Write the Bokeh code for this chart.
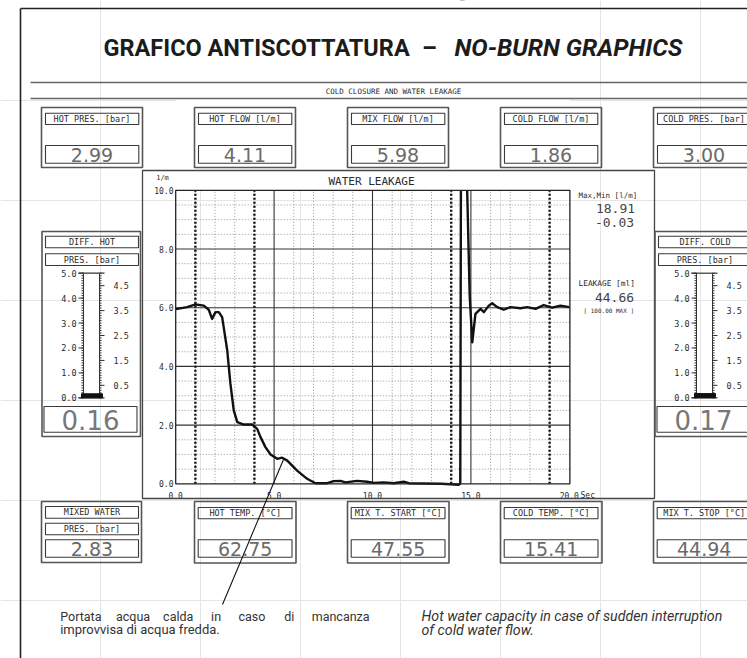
from bokeh.plotting import figure
from bokeh.models import Range1d
from bokeh.core.properties import value
from bokeh.embed import file_html
from bokeh.resources import INLINE

# ---------------- data ----------------
time_s = [0.0, 0.58, 1.01, 1.43, 1.68, 1.85, 2.02, 2.19, 2.36, 2.62, 2.78, 2.95, 3.13, 3.46,
          3.89, 4.14, 4.31, 4.56, 4.82, 5.16, 5.41, 5.67, 6.17, 6.68, 7.10, 7.70, 8.03, 8.37,
          8.63, 9.22, 9.73, 10.07, 10.57, 11.08, 11.59, 11.84, 12.5, 13.5, 14.39, 14.46,
          14.52, 14.62, 14.80, 14.94, 15.07, 15.23, 15.49, 15.66, 15.91, 16.08, 16.34, 16.67,
          17.01, 17.52, 17.86, 18.28, 18.70, 19.13, 19.55, 20.0]
flow_lpm = [5.95, 6.02, 6.11, 6.07, 5.93, 5.62, 5.85, 5.85, 5.68, 4.54, 3.41, 2.50, 2.10, 2.02,
            2.02, 1.87, 1.59, 1.25, 1.00, 0.85, 0.89, 0.79, 0.45, 0.17, 0.02, 0.02, 0.09, 0.10,
            0.05, 0.10, 0.07, 0.03, 0.05, 0.02, 0.07, 0.02, 0.01, 0.0, -0.03, 0.01,
            18.91, 16.5, 10.3, 6.4, 4.82, 5.79, 5.96, 5.85, 6.07, 6.15, 6.02, 5.93,
            6.02, 5.98, 6.02, 5.96, 6.09, 6.00, 6.07, 6.02]

x_ticks = [0, 5, 10, 15, 20]
x_tick_labels = ["0.0", "5.0", "10.0", "15.0", "20.0"]
y_ticks = [0, 2, 4, 6, 8, 10]
y_tick_labels = ["0.0", "2.0", "4.0", "6.0", "8.0", "10.0"]
x_major_grid = [5, 10, 15]
x_minor_grid = [1, 2, 3, 4, 6, 7, 8, 9, 11, 12, 13, 14, 16, 17, 18, 19]
y_major_grid = [2, 4, 6, 8]
y_minor_grid = [0.5, 1.0, 1.5, 2.5, 3.0, 3.5, 4.5, 5.0, 5.5, 6.5, 7.0, 7.5, 8.5, 9.0, 9.5]
event_markers_s = [1, 4, 14, 19]

top_labels = ["HOT PRES. [bar]", "HOT FLOW [l/m]", "MIX FLOW [l/m]", "COLD FLOW [l/m]", "COLD PRES. [bar]"]
top_values = [2.99, 4.11, 5.98, 1.86, 3.00]
bottom_labels = ["HOT TEMP. [°C]", "MIX T. START [°C]", "COLD TEMP. [°C]", "MIX T. STOP [°C]"]
bottom_values = [62.75, 47.55, 15.41, 44.94]
mixed_labels = ["MIXED WATER", "PRES. [bar]"]
mixed_value = 2.83
gauge_titles = [["DIFF. HOT", "PRES. [bar]"], ["DIFF. COLD", "PRES. [bar]"]]
gauge_values = [0.16, 0.17]
gauge_major = [0, 1, 2, 3, 4, 5]
gauge_major_labels = ["0.0", "1.0", "2.0", "3.0", "4.0", "5.0"]
gauge_half = [0.5, 1.5, 2.5, 3.5, 4.5]
gauge_half_labels = ["0.5", "1.5", "2.5", "3.5", "4.5"]
gauge_minor = [i / 10 for i in range(51)]
flow_max, flow_min = 18.91, -0.03
leakage_ml, leakage_limit = 44.66, 100.00

# ---------------- page figure (window pixel coordinates) ----------------
W, H = 747, 658
X0, Y0 = 0, 0
p = figure(width=W, height=H, x_range=Range1d(X0, X0 + W), y_range=Range1d(Y0 + H, Y0),
           output_backend="svg", toolbar_location=None, tools="", min_border=0,
           x_axis_location=None, y_axis_location=None, outline_line_color=None,
           background_fill_color="white", border_fill_color="white")

# scales of the embedded chart
T_PX0, T_PX20 = 175.2, 568.8
Q_PX0, Q_PX10 = 483.3, 189.8
G_PX0, G_PX5 = 397.3, 272.7
sx = (T_PX20 - T_PX0) / 20.0
sq = (Q_PX0 - Q_PX10) / 10.0
sg = (G_PX0 - G_PX5) / 5.0
p.extra_x_ranges = {"t": Range1d((X0 - T_PX0) / sx, (X0 + W - T_PX0) / sx)}
p.extra_y_ranges = {"q": Range1d((Q_PX0 - (Y0 + H)) / sq, (Q_PX0 - Y0) / sq),
                    "g": Range1d((G_PX0 - (Y0 + H)) / sg, (G_PX0 - Y0) / sg)}
TQ = dict(x_range_name="t", y_range_name="q")
XMAX = 20.03
MONO = value("DejaVu Sans Mono")
DIGIT = value("DejaVu Sans")
INK = "#2b2b2b"


def txt(x, y, s, size, font=MONO, align="center", color=INK, style="normal", **kw):
    xs = x if isinstance(x, list) else [x]
    ys = y if isinstance(y, list) else [y]
    ss = s if isinstance(s, list) else [s]
    n = max(len(xs), len(ys), len(ss))
    xs = xs * n if len(xs) == 1 else xs
    ys = ys * n if len(ys) == 1 else ys
    p.text(x=xs, y=ys, text=ss, text_font=font, text_font_size=value(f"{size}px"),
           text_align=align, text_baseline="middle", text_color=color,
           text_font_style=style, **kw)


def boxes(rects, color="#3a3a3a", lw=1.0):
    p.quad(left=[r[0] for r in rects], top=[r[1] for r in rects],
           right=[r[2] for r in rects], bottom=[r[3] for r in rects],
           fill_color=None, line_color=color, line_width=lw)


# ---------------- water leakage chart ----------------
p.segment(x0=0, x1=XMAX, y0=y_minor_grid, y1=y_minor_grid, line_color="#7a7a7a",
          line_width=0.8, line_dash="1 2", **TQ)
p.segment(x0=x_minor_grid, x1=x_minor_grid, y0=0, y1=10, line_color="#7a7a7a",
          line_width=0.8, line_dash="1 2", **TQ)
p.segment(x0=0, x1=XMAX, y0=y_major_grid, y1=y_major_grid, line_color="#333333",
          line_width=1.1, **TQ)
p.segment(x0=x_major_grid, x1=x_major_grid, y0=0, y1=10, line_color="#333333",
          line_width=1.1, **TQ)
p.segment(x0=event_markers_s, x1=event_markers_s, y0=0, y1=10, line_color="#111111",
          line_width=2.4, line_dash="2 2", **TQ)
p.line(time_s, flow_lpm, line_color="#111111", line_width=2.4, line_join="round", **TQ)
# mask everything drawn above the top of the chart area (clip of the curve)
p.quad(left=0, right=XMAX, bottom=10, top=40, fill_color="white", line_color=None, **TQ)
p.quad(left=[0], right=[XMAX], bottom=[0], top=[10], fill_color=None,
       line_color="#222222", line_width=1.3, **TQ)

txt(x_ticks, 495, x_tick_labels, 8, x_range_name="t")
txt(580, 495, "Sec", 8, align="left")
txt(173, y_ticks, y_tick_labels, 8, align="right", y_range_name="q")
txt(162, 177.5, "1/m", 7)
txt(371, 181, "WATER LEAKAGE", 11)

# panel border
boxes([(142, 170, 654, 498)], color="#444444", lw=1.3)

# right-hand info
txt(578, 195, "Max,Min [l/m]", 7.5, align="left")
txt(615, 208, f"{flow_max:.2f}", 13, color="#444444")
txt(614, 222, f"{flow_min:.2f}", 13, color="#444444")
txt(578, 283, "LEAKAGE [ml]", 7.8, align="left")
txt(614, 297, f"{leakage_ml:.2f}", 13, color="#444444")
txt(583, 310, f"[ {leakage_limit:.2f} MAX ]", 6, align="left")

# ---------------- header ----------------
p.segment(x0=[20, 20], y0=[8, 8], x1=[747, 20], y1=[8, 658], line_color="#222222", line_width=1.6)
TITLE_FONT = value("Roboto")
txt(103, 47, "GRAFICO ANTISCOTTATURA", 23.5, font=TITLE_FONT, align="left", style="bold", color="#1c1c1c")
txt(429, 47, "–", 23.5, font=TITLE_FONT, style="bold", color="#1c1c1c")
txt(682, 47, "NO-BURN GRAPHICS", 24.5, font=TITLE_FONT, align="right", style="bold italic", color="#1c1c1c")
p.segment(x0=[30, 30], y0=[82, 98], x1=[747, 747], y1=[82, 98], line_color="#666666", line_width=1.5)
txt(393, 90.5, "COLD CLOSURE AND WATER LEAKAGE", 7.5)

# top boxes
BOX_X = [41, 194, 347, 500, 653]
outer, inner = [], []
for bx in BOX_X:
    outer.append((bx, 107, bx + 101, 167))
    inner.append((bx + 4, 112.7, bx + 97.3, 124))
    inner.append((bx + 4, 145, bx + 97.3, 162.7))
boxes(outer, color="#555555", lw=1.6)
boxes(inner, color="#3a3a3a", lw=1.1)
txt([bx + 50.5 for bx in BOX_X], 118.5, top_labels, 8.5)
txt([bx + 50.5 for bx in BOX_X], 154, [f"{v:.2f}" for v in top_values], 19, font=DIGIT, color="#6a6a6a")

# ---------------- gauges ----------------
for gi, dx in enumerate([0, 613]):
    boxes([(41.5 + dx, 231, 140 + dx, 436)], color="#555555", lw=1.6)
    boxes([(45 + dx, 235.7, 138 + dx, 247.3), (45 + dx, 253.3, 138 + dx, 265),
           (43.5 + dx, 406, 136.5 + dx, 431.7)], color="#3a3a3a", lw=1.1)
    txt(91.5 + dx, [241.5, 259.2], gauge_titles[gi], 8.5)
    txt(90 + dx, 419, f"{gauge_values[gi]:.2f}", 26, font=DIGIT, color="#777777")
    G = dict(y_range_name="g")
    p.segment(x0=[83 + dx, 99 + dx], x1=[83 + dx, 99 + dx], y0=0, y1=5, line_color="#333333", line_width=1.0, **G)
    p.segment(x0=81 + dx, x1=83 + dx, y0=gauge_minor, y1=gauge_minor, line_color="#333333", line_width=1.0, **G)
    p.segment(x0=99 + dx, x1=101 + dx, y0=gauge_minor, y1=gauge_minor, line_color="#333333", line_width=1.0, **G)
    p.segment(x0=78 + dx, x1=83 + dx, y0=gauge_major, y1=gauge_major, line_color="#333333", line_width=1.0, **G)
    p.segment(x0=99 + dx, x1=104 + dx, y0=gauge_half, y1=gauge_half, line_color="#333333", line_width=1.0, **G)
    p.segment(x0=78 + dx, x1=104 + dx, y0=[0, 5], y1=[0, 5], line_color="#333333", line_width=1.2, **G)
    p.quad(left=[81 + dx], right=[102 + dx], bottom=[0], top=[gauge_values[gi]],
           fill_color="#111111", line_color="#111111", **G)
    txt(76 + dx, gauge_major, gauge_major_labels, 8.5, align="right", y_range_name="g")
    txt(113 + dx, gauge_half, gauge_half_labels, 8.5, align="left", y_range_name="g")

# ---------------- bottom boxes ----------------
outer = [(41, 501, 141, 562)]
inner = [(45, 506, 138, 517.7), (45, 522.7, 138, 534.3), (45, 539.3, 138, 556.7)]
BOT_X = [194, 347, 500, 653]
for bx in BOT_X:
    outer.append((bx, 501, bx + 101.5, 562.5))
    inner.append((bx + 3.7, 507, bx + 97.5, 518.3))
    inner.append((bx + 3.7, 539.3, bx + 97.5, 556.7))
boxes(outer, color="#555555", lw=1.6)
boxes(inner, color="#3a3a3a", lw=1.1)
txt(91.5, [511.9, 528.5], mixed_labels, 8.5)
txt(91.5, 548, f"{mixed_value:.2f}", 19, font=DIGIT, color="#6a6a6a")
txt([bx + 50.7 for bx in BOT_X], 512.7, bottom_labels, 8.5)
txt([bx + 50.7 for bx in BOT_X], 548, [f"{v:.2f}" for v in bottom_values], 19, font=DIGIT, color="#6a6a6a")

# ---------------- callout and captions ----------------
p.segment(x0=[283], y0=[459], x1=[222], y1=[604], line_color="#111111", line_width=1.1)
CAP = value("Roboto")
words1 = ["Portata", "acqua", "calda", "in", "caso", "di", "mancanza"]
word_x = [59.7, 115.5, 162.6, 210.6, 238, 283.8, 311.2]
txt(word_x, 615.7, words1, 12.5, font=CAP, align="left", color="#333333")
txt(59.7, 629, "improvvisa di acqua fredda.", 13, font=CAP, align="left", color="#333333")
txt(421, [615.7, 629], ["Hot water capacity in case of sudden interruption", "of cold water flow."],
    14.2, font=CAP, align="left", style="italic", color="#333333")

open("out.html", "w").write(file_html(p, INLINE))
